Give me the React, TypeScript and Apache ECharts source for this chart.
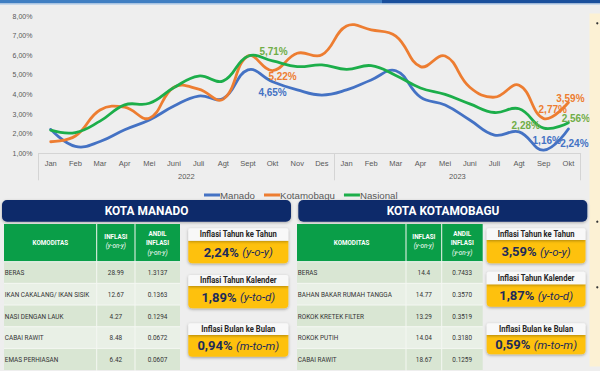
import React, { useEffect, useRef } from 'react';
import * as echarts from 'echarts';

// ---------- data ----------
const months = ['Jan', 'Feb', 'Mar', 'Apr', 'Mei', 'Juni', 'Juli', 'Agt', 'Sept', 'Okt', 'Nov', 'Des',
  'Jan', 'Feb', 'Mar', 'Apr', 'Mei', 'Juni', 'Juli', 'Agt', 'Sep', 'Okt'];
const yearLabels = ['2022', '2023'];
const manado = [2.22, 1.35, 1.6, 2.2, 2.7, 3.41, 3.92, 3.79, 5.25, 4.65, 4.23, 3.97,
  4.23, 4.74, 5.21, 3.86, 3.46, 2.7, 1.93, 2.09, 1.16, 2.24];
const kotamobagu = [1.59, 1.88, 3.21, 3.35, 2.79, 4.37, 4.27, 3.76, 5.96, 5.22, 6.1, 6.02,
  7.49, 7.29, 6.98, 5.42, 5.96, 4.37, 3.86, 4.47, 2.77, 3.59];
const nasional = [2.18, 2.06, 2.64, 3.47, 3.55, 4.35, 4.94, 4.69, 5.95, 5.71, 5.42, 5.51,
  5.28, 5.47, 4.97, 4.33, 4.0, 3.52, 3.08, 3.27, 2.28, 2.56];

const manadoKomoditas = ['BERAS', 'IKAN CAKALANG/ IKAN SISIK', 'NASI DENGAN LAUK', 'CABAI RAWIT', 'EMAS PERHIASAN'];
const manadoInflasi = ['28.99', '12.67', '4.27', '8.48', '6.42'];
const manadoAndil = ['1.3137', '0.1363', '0.1294', '0.0672', '0.0607'];
const kotamobaguKomoditas = ['BERAS', 'BAHAN BAKAR RUMAH TANGGA', 'ROKOK KRETEK FILTER', 'ROKOK PUTIH', 'CABAI RAWIT'];
const kotamobaguInflasi = ['14.4', '14.77', '13.29', '14.04', '18.67'];
const kotamobaguAndil = ['0.7433', '0.3570', '0.3519', '0.3180', '0.1259'];

const summaryTitles = ['Inflasi Tahun ke Tahun', 'Inflasi Tahun Kalender', 'Inflasi Bulan ke Bulan'];
const summaryUnits = ['(y-o-y)', '(y-to-d)', '(m-to-m)'];
const manadoSummary = ['2,24%', '1,89%', '0,94%'];
const kotamobaguSummary = ['3,59%', '1,87%', '0,59%'];

// ---------- styling ----------
const BLUE = '#4472c4';
const ORANGE = '#ed7d31';
const GREEN = '#1cae4a';
const GREEN_LABEL = '#70ad47';
const NAVY = '#0d2a6b';
const TGREEN = '#0a9e48';
const FONT = 'Liberation Sans, Arial, sans-serif';
const TFONT = 'Roboto, Liberation Sans, sans-serif';
const SMOOTH = 0.42;

// label offsets (index -> [dx, dy]) relative to the point
const manadoLabelPos: Record<number, number[]> = { 9: [0, 11], 20: [3, -10], 21: [6, 15] };
const kotamobaguLabelPos: Record<number, number[]> = { 9: [10, 6], 20: [9, -9], 21: [2, -4] };
const nasionalLabelPos: Record<number, number[]> = { 9: [1, -9], 20: [-18, -2.5], 21: [7.5, -4] };

const pct = (v: number) => v.toFixed(2).replace('.', ',') + '%';

function buildData(values: number[], pos: Record<number, number[]>, color: string) {
  return values.map((v, i) => {
    if (!pos[i]) return v;
    return {
      value: v,
      label: {
        show: true,
        position: 'inside',
        offset: pos[i],
        formatter: () => pct(v),
        color,
        fontSize: 10,
        fontWeight: 'bold',
        fontFamily: FONT,
      },
    };
  });
}

// smooth curve drawn through the axis scales (Excel-like unclamped spline)
function curveSeries(values: number[], color: string) {
  return {
    type: 'custom',
    name: 'curve',
    silent: true,
    z: 2,
    data: values.map((v, i) => [i, v]),
    encode: { x: 0, y: 1 },
    renderItem: (params: any, api: any) => {
      if (params.dataIndex !== 0) return null;
      const pts = values.map((v, i) => api.coord([i, v]));
      return {
        type: 'polyline',
        shape: { points: pts, smooth: SMOOTH },
        style: { stroke: color, lineWidth: 2.8, fill: null, lineCap: 'round', lineJoin: 'round' },
      };
    },
  };
}

function labelSeries(name: string, values: number[], pos: Record<number, number[]>, color: string, labelColor: string) {
  return {
    name, type: 'line', symbol: 'circle', symbolSize: 1, showSymbol: true, z: 3,
    color, itemStyle: { color }, lineStyle: { width: 0, opacity: 0, color },
    data: buildData(values, pos, labelColor),
  };
}

function txt(x: number, y: number, text: string, o: any = {}) {
  return {
    type: 'text',
    x,
    y,
    scaleX: o.scaleX ?? 1,
    z: 20,
    style: {
      text,
      fill: o.fill ?? '#333',
      fontSize: o.fontSize ?? 8,
      fontWeight: o.fontWeight ?? 'normal',
      fontStyle: o.fontStyle ?? 'normal',
      fontFamily: o.fontFamily ?? TFONT,
      align: o.align ?? 'center',
      verticalAlign: 'middle',
      textAlign: o.align ?? 'center',
      textVerticalAlign: 'middle',
    },
  };
}

function buildTable(x0: number, c1: number, c2: number, x1: number,
  kom: string[], inf: string[], andil: string[]) {
  const els: any[] = [];
  const hTop = 224;
  const hBot = 261.7;
  const rowH = 21.67;
  els.push({ type: 'rect', z: 10, shape: { x: x0, y: hTop, width: x1 - x0, height: hBot - hTop }, style: { fill: TGREEN } });
  kom.forEach((k, i) => {
    const y = hBot + i * rowH;
    els.push({ type: 'rect', z: 10, shape: { x: x0, y, width: x1 - x0, height: rowH }, style: { fill: i % 2 === 0 ? '#d9e6d3' : '#e9f0e6' } });
    els.push({ type: 'line', z: 11, shape: { x1: x0, y1: y, x2: x1, y2: y }, style: { stroke: '#f4f7f2', lineWidth: 1 } });
    els.push(txt(x0 + 0.8, y + rowH / 2, k, { align: 'left', fontSize: 8, scaleX: 0.8, fill: '#333333' }));
    els.push(txt((c1 + c2) / 2, y + rowH / 2, inf[i], { fontSize: 8, scaleX: 0.8, fill: '#333333' }));
    els.push(txt((c2 + x1) / 2, y + rowH / 2, andil[i], { fontSize: 8, scaleX: 0.8, fill: '#333333' }));
  });
  [c1, c2].forEach((c) => {
    els.push({ type: 'line', z: 11, shape: { x1: c, y1: hTop, x2: c, y2: 371 }, style: { stroke: '#f4f7f2', lineWidth: 1 } });
  });
  const hs = { fill: '#ffffff', fontWeight: 'bold', fontSize: 7, scaleX: 0.9 };
  els.push(txt((x0 + c1) / 2, 243.3, 'KOMODITAS', hs));
  els.push(txt((c1 + c2) / 2, 236.7, 'INFLASI', hs));
  els.push(txt((c1 + c2) / 2, 245.5, '(y-on-y)', { ...hs, fontWeight: 'normal', fontStyle: 'italic' }));
  els.push(txt((c2 + x1) / 2, 234, 'ANDIL', hs));
  els.push(txt((c2 + x1) / 2, 243.3, 'INFLASI', hs));
  els.push(txt((c2 + x1) / 2, 252.7, '(y-on-y)', { ...hs, fontWeight: 'normal', fontStyle: 'italic' }));
  return els;
}

function buildBoxes(x0: number, x1: number, rows: number[][], values: string[]) {
  const els: any[] = [];
  rows.forEach((r, i) => {
    const [t, m, b] = r;
    els.push({
      type: 'rect', z: 12,
      shape: { x: x0, y: m, width: x1 - x0, height: b - m, r: [0, 0, 4, 4] },
      style: { fill: '#fec10e', shadowBlur: 3, shadowColor: 'rgba(0,0,0,0.35)', shadowOffsetY: 1 },
    });
    els.push({
      type: 'rect', z: 13,
      shape: { x: x0, y: t, width: x1 - x0, height: m - t, r: [2, 2, 0, 0] },
      style: { fill: '#f8f8f8', shadowBlur: 3, shadowColor: 'rgba(0,0,0,0.3)', shadowOffsetY: 1 },
    });
    els.push(txt((x0 + x1) / 2, (t + m) / 2 + 0.3, summaryTitles[i], { fontWeight: 'bold', fontSize: 8.5, scaleX: 0.9, fill: '#262626' }));
    els.push({
      type: 'text', z: 20, x: (x0 + x1) / 2, y: (m + b) / 2,
      style: {
        text: '{v|' + values[i] + '} {u|' + summaryUnits[i] + '}',
        align: 'center', verticalAlign: 'middle', textAlign: 'center', textVerticalAlign: 'middle',
        rich: {
          v: { fontSize: 13, fontWeight: 'bold', fontFamily: TFONT, fill: '#1d2b5a', color: '#1d2b5a' },
          u: { fontSize: 11.5, fontStyle: 'italic', fontFamily: TFONT, fill: '#1d2b5a', color: '#1d2b5a' },
        },
      },
    });
  });
  return els;
}

export default function App() {
  const ref = useRef<HTMLDivElement>(null);
  useEffect(() => {
    if (!ref.current) return;
    const chart = echarts.init(ref.current, undefined, { renderer: 'svg' });

    const graphic: any[] = [
      { type: 'rect', z: 5, shape: { x: 0, y: 0, width: 382, height: 3.5 }, style: { fill: '#3f7ec2' } },
      { type: 'rect', z: 5, shape: { x: 382, y: 0, width: 218, height: 3.5 }, style: { fill: '#1a4f9c' } },
      { type: 'rect', z: 5, shape: { x: 0, y: 3.5, width: 600, height: 1.2 }, style: { fill: '#b9d0ea' } },
      { type: 'rect', z: 5, shape: { x: 589.5, y: 13.5, width: 11, height: 353 }, style: { fill: '#fcf1d4' } },
      { type: 'circle', z: 6, shape: { cx: 597.3, cy: 23.3, r: 1.1 }, style: { fill: '#333' } },
      { type: 'circle', z: 6, shape: { cx: 597.3, cy: 221.7, r: 1.1 }, style: { fill: '#333' } },
      { type: 'circle', z: 6, shape: { cx: 597.3, cy: 287.3, r: 1.1 }, style: { fill: '#333' } },
      // headers
      { type: 'rect', z: 10, shape: { x: 2, y: 200, width: 289, height: 21.7, r: 5 }, style: { fill: NAVY, shadowBlur: 3, shadowColor: 'rgba(0,0,0,0.3)', shadowOffsetY: 1 } },
      { type: 'rect', z: 10, shape: { x: 298.3, y: 200, width: 289, height: 21.7, r: 5 }, style: { fill: NAVY, shadowBlur: 3, shadowColor: 'rgba(0,0,0,0.3)', shadowOffsetY: 1 } },
      txt(146.5, 211, 'KOTA MANADO', { fill: '#ffffff', fontWeight: 'bold', fontSize: 12.5, scaleX: 0.95 }),
      txt(443, 211, 'KOTA KOTAMOBAGU', { fill: '#ffffff', fontWeight: 'bold', fontSize: 12.5, scaleX: 0.95 }),
      ...buildTable(4, 96.7, 135, 180, manadoKomoditas, manadoInflasi, manadoAndil),
      ...buildTable(297, 406, 441.7, 482.7, kotamobaguKomoditas, kotamobaguInflasi, kotamobaguAndil),
      ...buildBoxes(188.3, 288.3, [[228.3, 240.7, 263.3], [275, 286, 308.3], [323.3, 335, 356.7]], manadoSummary),
      ...buildBoxes(486.7, 585.5, [[228.3, 240, 263.3], [271.7, 284.3, 306.7], [323.3, 335, 354.3]], kotamobaguSummary),
    ];

    chart.setOption({
      animation: false,
      backgroundColor: '#eeeeee',
      grid: { left: 38.4, right: 19.3, top: 16, bottom: 217.7, containLabel: false },
      legend: {
        data: [
          { name: 'Manado', itemStyle: { color: BLUE } },
          { name: 'Kotamobagu', itemStyle: { color: ORANGE } },
          { name: 'Nasional', itemStyle: { color: GREEN } },
        ],
        left: 199,
        top: 185,
        icon: 'rect',
        itemWidth: 16,
        itemHeight: 3,
        itemGap: 9,
        textStyle: { fontSize: 9.7, color: '#595959', fontFamily: FONT, padding: [0, 0, 0, -5] },
      },
      xAxis: [
        {
          type: 'category',
          data: months,
          boundaryGap: true,
          axisLine: { lineStyle: { color: '#d4d4d4', width: 1 } },
          axisTick: { show: false },
          axisLabel: { interval: 0, fontSize: 7.5, color: '#595959', margin: 6, fontFamily: FONT },
        },
        {
          type: 'value',
          min: 0,
          max: months.length,
          position: 'bottom',
          axisLine: { show: false },
          splitLine: { show: false },
          axisTick: { show: true, customValues: [0, 12, 22], length: 27, lineStyle: { color: '#d4d4d4' } },
          axisLabel: {
            customValues: [6, 17],
            formatter: (v: number) => (v < 12 ? yearLabels[0] : yearLabels[1]),
            fontSize: 7.5,
            color: '#595959',
            margin: 19,
            fontFamily: FONT,
          },
        },
      ],
      yAxis: {
        type: 'value',
        min: 1,
        max: 8,
        interval: 1,
        axisLine: { show: false },
        axisTick: { show: false },
        splitLine: { show: false },
        axisLabel: { formatter: (v: number) => pct(v), fontSize: 7, color: '#595959', margin: 6, fontFamily: FONT },
      },
      series: [
        curveSeries(manado, BLUE),
        curveSeries(kotamobagu, ORANGE),
        curveSeries(nasional, GREEN),
        labelSeries('Manado', manado, manadoLabelPos, BLUE, BLUE),
        labelSeries('Kotamobagu', kotamobagu, kotamobaguLabelPos, ORANGE, ORANGE),
        labelSeries('Nasional', nasional, nasionalLabelPos, GREEN, GREEN_LABEL),
      ],
      graphic,
    });
    return () => chart.dispose();
  }, []);
  return <div ref={ref} style={{ position: 'fixed', left: 0, top: 0, width: 600, height: 371 }} />;
}
